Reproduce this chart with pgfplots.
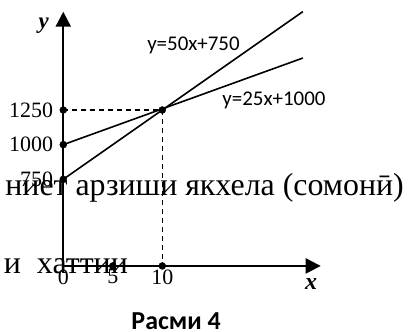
\documentclass[border=0pt]{standalone}
\usepackage{fontspec}
\setmainfont{Liberation Serif}
\newfontfamily\calibri{Carlito}
\usepackage{pgfplots}
\pgfplotsset{compat=1.18}
\usetikzlibrary{arrows.meta}
\begin{document}
\begin{tikzpicture}
\begin{axis}[
  x=9.9bp, y=0.1386bp,
  xmin=0, xmax=26.0, ymin=125, ymax=1959,
  axis lines=left,
  axis line style={line width=2.3bp, -{Triangle[width=15bp,length=15bp]}},
  xtick={0,5,10}, ytick={750,1000,1250},
  major tick length=0pt,
  tick label style={font=\fontsize{22}{26}\selectfont},
  xticklabel style={anchor=north, inner sep=0pt, yshift=-3.5bp},
  yticklabel style={anchor=east, inner sep=0pt, xshift=-10bp},
  /pgf/number format/assume math mode=true,
  /pgf/number format/1000 sep={},
  xlabel={\textbf{\textit{x}}}, ylabel={\textbf{\textit{y}}},
  every axis x label/.style={at={(axis cs:25.02,-41.5)}, anchor=base, inner sep=0pt, font=\fontsize{24}{28}\selectfont},
  every axis y label/.style={at={(axis cs:-1.98,1838)}, anchor=base, inner sep=0pt, font=\fontsize{23}{27}\selectfont},
  clip=false,
]
\addplot[line width=1.6bp] coordinates {(0,750) (24.2,1960)};
\addplot[line width=1.6bp] coordinates {(0,1000) (24.2,1625)};
\addplot[line width=1.4bp, dash pattern=on 5bp off 4bp] coordinates {(0,1250) (10,1250) (10,125)};
\addplot[only marks, mark=*, mark size=3.5bp] coordinates {(0,750) (0,1000) (0,1250) (10,1250) (5,125) (10,125)};
\node[anchor=base, inner sep=0pt, font=\calibri\fontsize{21}{25}\selectfont] at (axis cs:13.15,1676) {y=50x+750};
\node[anchor=base, inner sep=0pt, font=\calibri\fontsize{21}{25}\selectfont] at (axis cs:21.28,1286) {y=25x+1000};
% text of the page that runs under the figure
\node[anchor=base east, inner sep=0pt, font=\fontsize{32}{36}\selectfont] at (axis cs:34.41,630) {ниет арзиши якхела (сомонӣ)};
\node[anchor=base east, inner sep=0pt, font=\fontsize{32}{36}\selectfont] at (axis cs:6.54,68) {и\ \ хаттии};
\node[anchor=base, inner sep=0pt, font=\calibri\bfseries\fontsize{26}{30}\selectfont] at (axis cs:11.4,-330) {Расми 4};
\coordinate (bl) at (axis cs:-6.39,-344.5);
\coordinate (tr) at (axis cs:35.12,2043.6);
\end{axis}
\pgfresetboundingbox
\path[use as bounding box] (bl) rectangle (tr);
\end{tikzpicture}
\end{document}
